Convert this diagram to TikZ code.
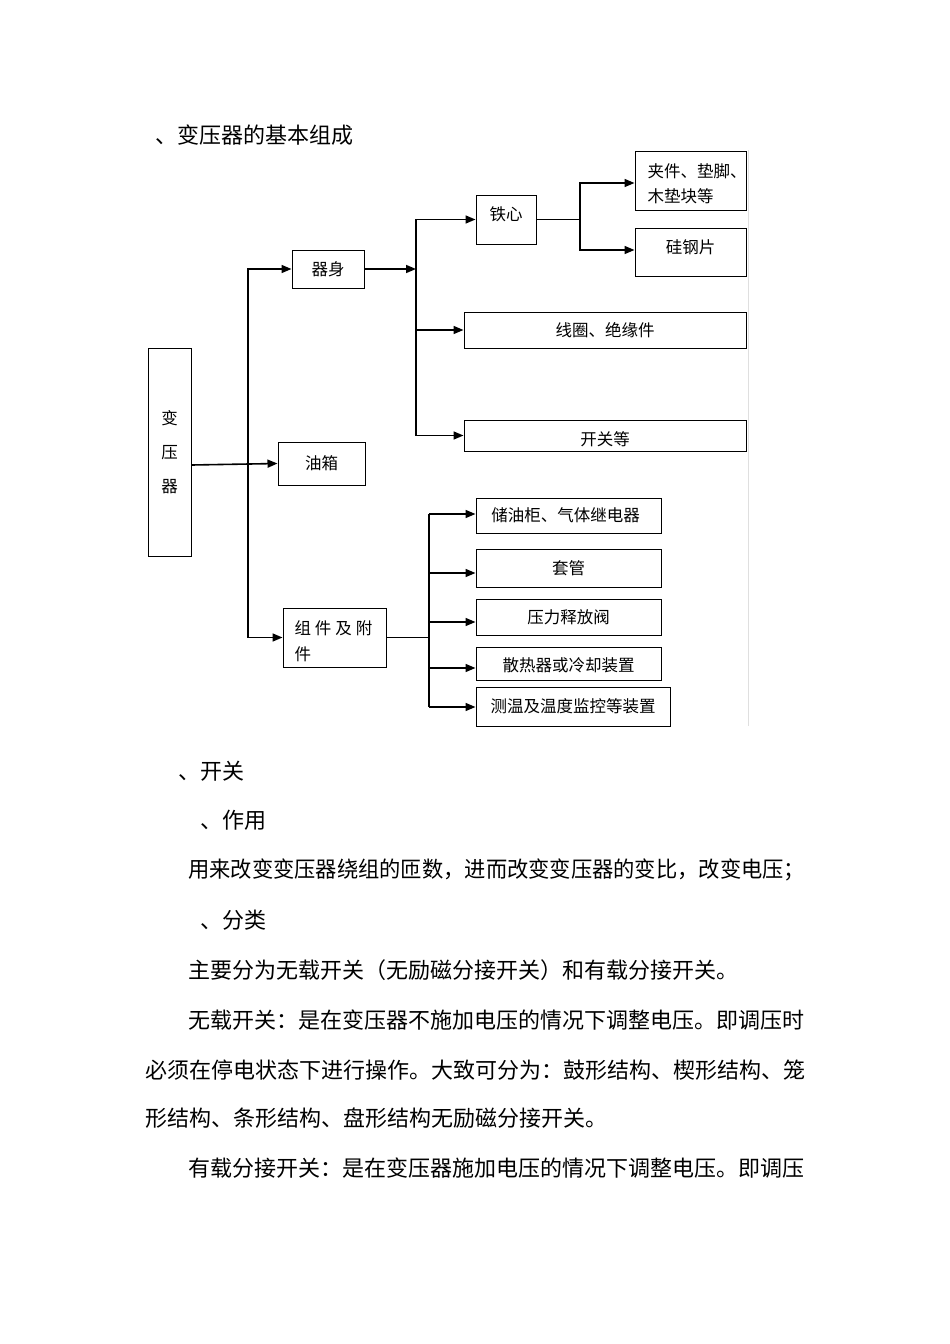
\documentclass[tikz,border=0pt]{standalone}
\usepackage{fontspec}
\setmainfont{Noto Sans CJK SC}
\usetikzlibrary{arrows.meta}
\newcommand\mydiagfont{\fontsize{16.5pt}{20pt}\selectfont}
\newcommand\mybodyfont{\fontsize{22pt}{26pt}\selectfont}
% shift text inside a centred box: add invisible depth (moves text up) or height (moves text down)
\newcommand\txtup[1]{\rule[-#1]{0pt}{#1}}
\newcommand\txtdown[1]{\rule{0pt}{#1}}
\begin{document}
\begin{tikzpicture}[x=1pt,y=-1pt,
  box/.style={draw, line width=1pt, inner sep=0pt, font=\mydiagfont, align=center},
  arr/.style={line width=1.6pt, -{Triangle[length=10pt,width=8pt]}},
  ln/.style={line width=1.6pt},
  thinln/.style={line width=1pt},
  body/.style={anchor=west, inner sep=0pt, font=\mybodyfont}]
\fill[white] (0,0) rectangle (950,1344);
\useasboundingbox (0,0) rectangle (950,1344);

% faint page edge line
\draw[gray!25, line width=0.8pt] (748,150) -- (748,726);

% boxes
\node[box, minimum width=43pt, minimum height=208pt, font={\fontsize{16.5pt}{34pt}\selectfont}] (tr) at (169.5,452) {变\\压\\器};
\node[box, minimum width=72pt, minimum height=38pt] (qs) at (328,269) {器身};
\node[box, minimum width=87pt, minimum height=43pt] (yx) at (321.5,463.5) {油箱};
\node[box, minimum width=103pt, minimum height=59pt, text width=80pt, align=left,
      font={\fontsize{16.5pt}{26pt}\selectfont}] (zj) at (334.5,637.5)
      {\txtdown{21.5pt}组\hspace{4pt}件\hspace{4pt}及\hspace{4pt}附\\件};
\node[box, minimum width=60pt, minimum height=49pt] (tx) at (506,219.5) {\txtup{11pt}铁心};
\node[box, minimum width=111pt, minimum height=59pt, text width=86pt, align=left,
      font={\fontsize{16.5pt}{25pt}\selectfont}] (jj) at (690.5,180.5) {\txtdown{20.5pt}夹件、垫脚、\\木垫块等};
\node[box, minimum width=111pt, minimum height=48pt] (gg) at (690.5,252) {\txtup{10pt}硅钢片};
\node[box, minimum width=282pt, minimum height=36pt] (xq) at (605,330) {线圈、绝缘件};
\node[box, minimum width=282pt, minimum height=31pt] (kg) at (605,435.5) {\txtdown{21.5pt}开关等};
\node[box, minimum width=185pt, minimum height=35pt] (cy) at (568.5,515.5) {\hspace{-6pt}储油柜、气体继电器};
\node[box, minimum width=185pt, minimum height=38pt] (tg) at (568.5,568) {套管};
\node[box, minimum width=185pt, minimum height=36pt] (yl) at (568.5,617) {压力释放阀};
\node[box, minimum width=185pt, minimum height=33pt] (sr) at (568.5,663.5) {\txtdown{17pt}散热器或冷却装置};
\node[box, minimum width=194pt, minimum height=39pt] (cw) at (573,706.5) {测温及温度监控等装置};

% trunk coordinates
\coordinate (t1) at (248,637.5);
\coordinate (t2) at (416,435.5);
\coordinate (t3) at (580,219.5);
\coordinate (t4) at (429,637.5);

% level 1
\draw[arr] ([yshift=-1.5pt]tr.east |- yx.west) -- (yx.west);
\draw[arr] (t1) |- (qs.west);
\draw[arr] (t1) -- (zj.west);

% 器身 branch
\draw[arr] (qs.east) -- (qs.east -| t2);
\draw[arr] (t2) |- (tx.west);
\draw[arr] (t2 |- xq.west) -- (xq.west);
\draw[arr] (t2) -- (kg.west);

% 铁心 branch
\draw[thinln] (tx.east) -- (t3);
\draw[arr] (t3) |- ([yshift=-2.5pt]jj.west);
\draw[arr] (t3) |- ([yshift=2pt]gg.west);

% 组件及附件 branch
\draw[thinln] (zj.east) -- (t4);
\draw[ln] ([yshift=1.5pt]cy.west -| t4) -- ([yshift=-0.5pt]cw.west -| t4);
\draw[arr] ([yshift=1.5pt]cy.west -| t4) -- ([yshift=1.5pt]cy.west);
\draw[arr] ([yshift=-5pt]tg.west -| t4) -- ([yshift=-5pt]tg.west);
\draw[arr] ([yshift=-5pt]yl.west -| t4) -- ([yshift=-5pt]yl.west);
\draw[arr] ([yshift=-4.5pt]sr.west -| t4) -- ([yshift=-4.5pt]sr.west);
\draw[arr] ([yshift=-0.5pt]cw.west -| t4) -- ([yshift=-0.5pt]cw.west);

% body text
\node[body] (h1) at (155,135) {、变压器的基本组成};
\node[body] (h2) at (178,771) {、开关};
\node[body] (h3) at (200,820) {、作用};
\node[body] (p1) at (188,870) {\scalebox{0.967}[1]{用来改变变压器绕组的匝数，进而改变变压器的变比，改变电压；}};
\node[body] (h4) at (200,920) {、分类};
\node[body] (p2) at (188,970) {主要分为无载开关（无励磁分接开关）和有载分接开关。};
\node[body] (p3) at (188,1020) {无载开关：是在变压器不施加电压的情况下调整电压。即调压时};
\node[body] (p4) at (145,1070) {必须在停电状态下进行操作。大致可分为：鼓形结构、楔形结构、笼};
\node[body] (p5) at (145,1118) {形结构、条形结构、盘形结构无励磁分接开关。};
\node[body] (p6) at (188,1168) {有载分接开关：是在变压器施加电压的情况下调整电压。即调压};
\end{tikzpicture}
\end{document}
